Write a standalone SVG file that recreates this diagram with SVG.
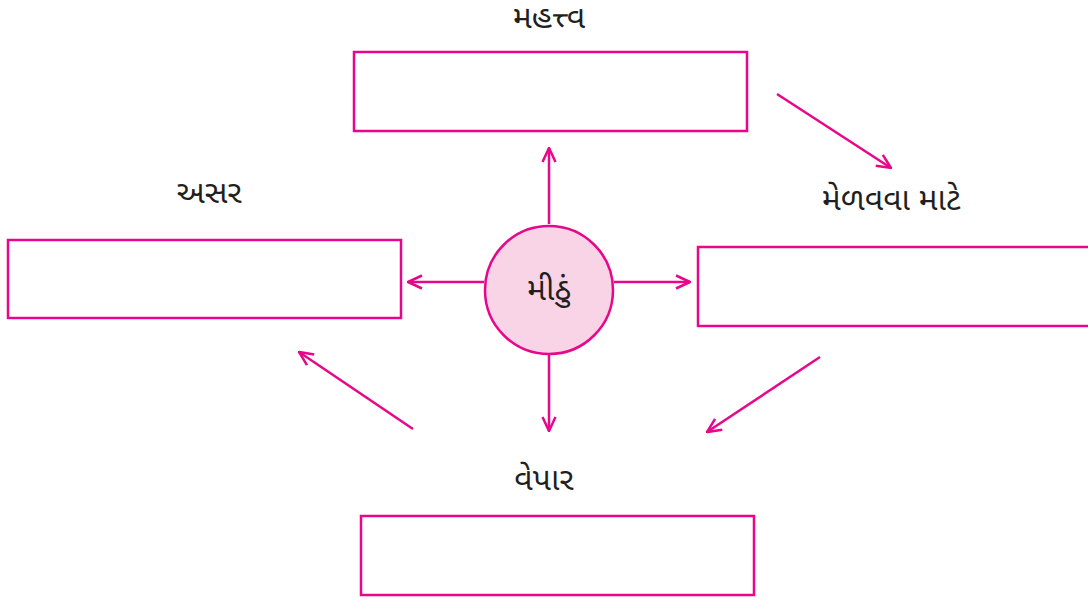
<svg xmlns="http://www.w3.org/2000/svg" width="1088" height="602" viewBox="0 0 1088 602">
<style>
.box{fill:#fff;stroke:#e8078a;stroke-width:2.5}
.lbl{font-family:"Noto Sans Gujarati","Noto Sans","DejaVu Sans",sans-serif;font-size:32px;fill:#231f20;text-anchor:middle}
.con{stroke:#e8078a;stroke-width:2.5;fill:none;marker-end:url(#ah)}
</style>
<defs>
<marker id="ah" viewBox="0 0 16 16" refX="15" refY="8" markerWidth="16" markerHeight="16" markerUnits="userSpaceOnUse" orient="auto">
<path d="M1,1.5 L15,8 L1,14.5" fill="none" stroke="#e8078a" stroke-width="2.5"/>
</marker>
</defs>
<rect width="1088" height="602" fill="#fff"/>
<g id="connectors">
<line class="con" x1="549" y1="224" x2="549" y2="148"/>
<line class="con" x1="549" y1="355" x2="549" y2="431"/>
<line class="con" x1="614" y1="282" x2="690" y2="282"/>
<line class="con" x1="484" y1="282" x2="408" y2="282"/>
<line class="con" x1="777" y1="94" x2="891" y2="168"/>
<line class="con" x1="820" y1="357" x2="707" y2="432"/>
<line class="con" x1="413" y1="429" x2="299" y2="352"/>
</g>
<g id="mahattva">
<rect class="box" x="354" y="52" width="393" height="79"/>
<text class="lbl" x="549" y="28">મહત્ત્વ</text>
</g>
<g id="asar">
<rect class="box" x="8" y="240" width="393" height="78"/>
<text class="lbl" x="209" y="203">અસર</text>
</g>
<g id="melavva">
<rect class="box" x="698" y="247" width="400" height="79"/>
<text class="lbl" x="891" y="210">મેળવવા માટે</text>
</g>
<g id="vepar">
<rect class="box" x="361" y="516" width="393" height="79"/>
<text class="lbl" x="544" y="490">વેપાર</text>
</g>
<g id="mithu">
<circle cx="549" cy="290" r="64" fill="#f9d3e6" stroke="#e8078a" stroke-width="2.5"/>
<text class="lbl" x="549" y="300">મીઠું</text>
</g>
</svg>
